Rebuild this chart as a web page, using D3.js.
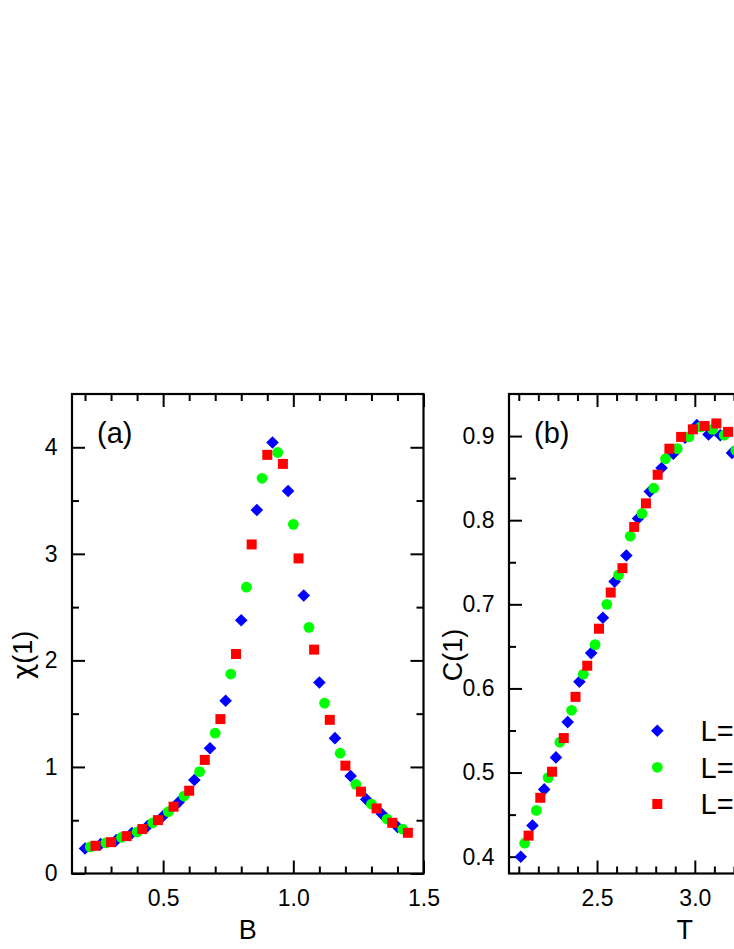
<!DOCTYPE html>
<html><head><meta charset="utf-8">
<script src="https://cdn.jsdelivr.net/npm/d3@7"></script>
<style>html,body{margin:0;padding:0;background:#fff;overflow:hidden}</style>
</head><body>
<svg id="chart" width="734" height="949"></svg>
<script>
// ---------- Panel (a): chi(1) vs B ----------
const bBlue  = [0.20,0.26,0.32,0.38,0.44,0.50,0.56,0.62,0.68,0.74,0.80,0.86,0.92,0.98,1.04,1.10,1.16,1.22,1.28,1.34,1.40];
const chiBlue = [0.235,0.276,0.313,0.379,0.445,0.539,0.670,0.878,1.176,1.621,2.376,3.411,4.045,3.590,2.609,1.793,1.270,0.915,0.696,0.558,0.438];
const bGreen = [0.22,0.28,0.34,0.40,0.46,0.52,0.58,0.64,0.70,0.76,0.82,0.88,0.94,1.00,1.06,1.12,1.18,1.24,1.30,1.36,1.42];
const chiGreen = [0.250,0.288,0.339,0.391,0.476,0.580,0.727,0.956,1.317,1.872,2.687,3.709,3.951,3.277,2.310,1.599,1.129,0.837,0.652,0.511,0.417];
const bRed   = [0.24,0.30,0.36,0.42,0.48,0.54,0.60,0.66,0.72,0.78,0.84,0.90,0.96,1.02,1.08,1.14,1.20,1.26,1.32,1.38,1.44];
const chiRed = [0.260,0.294,0.351,0.417,0.501,0.627,0.777,1.066,1.449,2.060,3.088,3.929,3.844,2.957,2.101,1.442,1.012,0.768,0.611,0.476,0.382];

// ---------- Panel (b): C(1) vs T ----------
const tBlue  = [2.11,2.17,2.23,2.29,2.35,2.41,2.47,2.53,2.59,2.65,2.71,2.77,2.83,2.89,2.95,3.01,3.07,3.13,3.19];
const cBlue  = [0.400,0.437,0.480,0.518,0.560,0.608,0.642,0.684,0.727,0.758,0.802,0.834,0.862,0.879,0.898,0.913,0.902,0.901,0.880];
const tGreen = [2.13,2.19,2.25,2.31,2.37,2.43,2.49,2.55,2.61,2.67,2.73,2.79,2.85,2.91,2.97,3.03,3.09,3.15,3.21];
const cGreen = [0.416,0.455,0.494,0.536,0.574,0.617,0.652,0.700,0.735,0.781,0.808,0.838,0.873,0.885,0.899,0.911,0.908,0.901,0.883];
const tRed   = [2.15,2.21,2.27,2.33,2.39,2.45,2.51,2.57,2.63,2.69,2.75,2.81,2.87,2.93,2.99,3.05,3.11,3.17];
const cRed   = [0.425,0.470,0.501,0.541,0.590,0.627,0.671,0.714,0.743,0.792,0.820,0.854,0.885,0.899,0.908,0.912,0.915,0.905];

// ticks
const aXMajor = [0.5,1.0,1.5];
const aXMinor = [0.2,0.3,0.4,0.6,0.7,0.8,0.9,1.1,1.2,1.3,1.4];
const aYMajor = [0,1,2,3,4];
const aYMinor = [0.5,1.5,2.5,3.5];
const bXMajor = [2.5,3.0];
const bXMinor = [2.1,2.2,2.3,2.4,2.6,2.7,2.8,2.9,3.1,3.2,3.3,3.4,3.6,3.7,3.8];
const bYMajor = [0.4,0.5,0.6,0.7,0.8,0.9];
const bYMinor = [0.45,0.55,0.65,0.75,0.85];

const legendLabels = ["L=16","L=32","L=64"];
const seriesColors = ["#0000ff","#00ff00","#ff0000"];
const seriesShapes = ["diamond","circle","square"];

const FONT = "'Liberation Sans', Arial, Helvetica, sans-serif";
const svg = d3.select('#chart');
const TOP = 394, BOTTOM = 873.5, W = 351.5;

function symbolPath(shape){
  if(shape==="diamond") return "M0,-6.3L6.3,0L0,6.3L-6.3,0Z";
  if(shape==="square") return "M-5,-5H5V5H-5Z";
  return d3.arc()({innerRadius:0,outerRadius:5.4,startAngle:0,endAngle:2*Math.PI});
}

function drawPanel(cfg){
  const x = d3.scaleLinear().domain(cfg.xDomain).range([cfg.left, cfg.left+W]);
  const y = d3.scaleLinear().domain(cfg.yDomain).range([BOTTOM, TOP]);
  const g = svg.append('g');

  const fmtX = cfg.xFmt, fmtY = cfg.yFmt;
  const axes = [
    [d3.axisBottom(x), BOTTOM, 'x', true],
    [d3.axisTop(x), TOP, 'x', false],
    [d3.axisLeft(y), cfg.left, 'y', true],
    [d3.axisRight(y), cfg.left+W, 'y', false]
  ];
  axes.forEach(([mk, pos, dir, lab])=>{
    const major = mk.tickValues(dir==='x'?cfg.xMajor:cfg.yMajor).tickSize(-13)
      .tickPadding(dir==='x'?16.2:14.5)
      .tickFormat(lab ? (dir==='x'?fmtX:fmtY) : "");
    const ag = g.append('g').attr('transform', dir==='x' ? `translate(0,${pos})` : `translate(${pos},0)`).call(major);
    ag.select('.domain').remove();
    ag.selectAll('line').attr('stroke','#000').attr('stroke-width',2);
    ag.selectAll('text').attr('font-family',FONT).attr('font-size',23).attr('fill','#000');
    const mk2 = (dir==='x' ? (pos===BOTTOM?d3.axisBottom(x):d3.axisTop(x)) : (pos===cfg.left?d3.axisLeft(y):d3.axisRight(y)));
    const minor = mk2.tickValues(dir==='x'?cfg.xMinor:cfg.yMinor).tickSize(-7).tickFormat("");
    const mg = g.append('g').attr('transform', dir==='x' ? `translate(0,${pos})` : `translate(${pos},0)`).call(minor);
    mg.select('.domain').remove();
    mg.selectAll('line').attr('stroke','#000').attr('stroke-width',2);
  });

  g.append('rect').attr('x',cfg.left).attr('y',TOP).attr('width',W).attr('height',BOTTOM-TOP)
    .attr('fill','none').attr('stroke','#000').attr('stroke-width',2.2);

  // data
  cfg.series.forEach((s,i)=>{
    g.append('g').selectAll('path').data(s.xs.map((v,j)=>[v,s.ys[j]])).join('path')
      .attr('d', symbolPath(seriesShapes[i]))
      .attr('transform', d=>`translate(${x(d[0])},${y(d[1])})`)
      .attr('fill', seriesColors[i]);
  });

  // panel label
  g.append('text').attr('x',cfg.left+25).attr('y',443).text(cfg.label)
    .attr('font-family',FONT).attr('font-size',29).attr('fill','#000');
  // x title
  g.append('text').attr('x',cfg.left+W/2).attr('y',939).attr('text-anchor','middle').text(cfg.xTitle)
    .attr('font-family',FONT).attr('font-size',27).attr('fill','#000');
  // y title
  const yt = g.append('text').attr('transform',`translate(${cfg.yTitleX},655) rotate(-90)`).attr('text-anchor','middle')
    .attr('font-family',FONT).attr('font-size',27).attr('fill','#000');
  cfg.yTitle.forEach(part=>{
    const ts = yt.append('tspan').text(part.t);
    if(part.f) ts.attr('font-family',part.f);
  });
  return {x,y,g};
}

drawPanel({
  left:72, xDomain:[0.15,1.5], yDomain:[0,4.5],
  xMajor:aXMajor, xMinor:aXMinor, yMajor:aYMajor, yMinor:aYMinor,
  xFmt:d3.format('.1f'), yFmt:d3.format('d'),
  series:[{xs:bBlue,ys:chiBlue},{xs:bGreen,ys:chiGreen},{xs:bRed,ys:chiRed}],
  label:'(a)', xTitle:'B', yTitle:[{t:'χ',f:"'DejaVu Sans', 'Noto Sans', sans-serif"},{t:'(1)'}], yTitleX:32
});

drawPanel({
  left:509, xDomain:[2.05,3.847], yDomain:[0.38,0.95],
  xMajor:bXMajor, xMinor:bXMinor, yMajor:bYMajor, yMinor:bYMinor,
  xFmt:d3.format('.1f'), yFmt:d3.format('.1f'),
  series:[{xs:tBlue,ys:cBlue},{xs:tGreen,ys:cGreen},{xs:tRed,ys:cRed}],
  label:'(b)', xTitle:'T', yTitle:[{t:'C(1)'}], yTitleX:462
});

// legend
const legY = [730.7, 767.3, 804];
legendLabels.forEach((lab,i)=>{
  svg.append('path').attr('d',symbolPath(seriesShapes[i]))
    .attr('transform',`translate(657.3,${legY[i]})`).attr('fill',seriesColors[i]);
  svg.append('text').attr('x',700.5).attr('y',legY[i]+10.3).text(lab)
    .attr('font-family',FONT).attr('font-size',29).attr('fill','#000');
});
</script>
</body></html>
